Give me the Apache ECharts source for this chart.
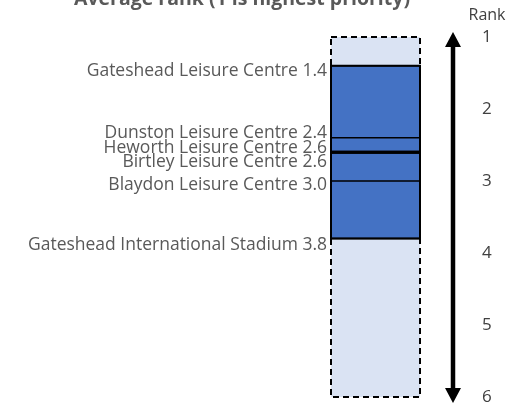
<!DOCTYPE html>
<html><head><meta charset="utf-8">
<script src="https://cdn.jsdelivr.net/npm/echarts@6/dist/echarts.min.js"></script>
<style>html,body{margin:0;padding:0;background:#fff}#c{width:524px;height:406px}</style>
</head><body><div id="c"></div>
<script>
const facilities = ['Gateshead Leisure Centre','Dunston Leisure Centre','Heworth Leisure Centre','Birtley Leisure Centre','Blaydon Leisure Centre','Gateshead International Stadium'];
const ranks = [1.4, 2.4, 2.6, 2.6, 3.0, 3.8];
const rankTicks = [1, 2, 3, 4, 5, 6];
const titleText = 'Average rank (1 is highest priority)';
const axisName = 'Rank';

// styling: vertical label nudges (px)
const labelDy = [5, -5, -4, 10, 4, 6];

const minR = rankTicks[0], maxR = rankTicks[rankTicks.length - 1];
const lo = Math.min(...ranks), hi = Math.max(...ranks);

const chart = echarts.init(document.getElementById('c'));
const grey = '#595959';
chart.setOption({
  animation: false,
  grid: {left: 331, right: 104, top: 37, bottom: 9},
  xAxis: {type: 'value', min: 0, max: 1, show: false},
  yAxis: {
    type: 'value', inverse: true, min: minR, max: maxR, interval: 1,
    position: 'right',
    axisLine: {show: false},
    axisTick: {show: false}, splitLine: {show: false},
    axisLabel: {margin: 62, color: '#404040', fontSize: 17, fontFamily: 'Open Sans'}
  },
  graphic: [
    {type: 'text', style: {text: titleText, x: 242, y: 9, textAlign: 'center', textVerticalAlign: 'bottom', font: 'bold 19.5px "Open Sans"', fill: grey}},
    {type: 'text', style: {text: axisName, x: 487, y: 15, textAlign: 'center', textVerticalAlign: 'middle', font: '16px "Open Sans"', fill: '#404040'}}
  ],
  series: [{
    type: 'custom',
    data: [[0]],
    renderItem: function (params, api) {
      const x0 = api.coord([0, minR])[0], x1 = api.coord([1, minR])[0];
      const yTop = api.coord([0, minR])[1], yBot = api.coord([0, maxR])[1];
      const yLo = api.coord([0, lo])[1], yHi = api.coord([0, hi])[1];
      const children = [];
      children.push({type: 'rect', shape: {x: x0, y: yTop, width: x1 - x0, height: yBot - yTop},
        style: {fill: '#DAE3F3', stroke: '#000', lineWidth: 2, lineDash: [6, 4]}});
      children.push({type: 'rect', shape: {x: x0, y: yLo, width: x1 - x0, height: yHi - yLo},
        style: {fill: '#4472C4', stroke: '#000', lineWidth: 2}});
      ranks.forEach(function (r, i) {
        const y = api.coord([0, r])[1];
        const n = ranks.filter(v => v === r).length;
        children.push({type: 'line', shape: {x1: x0, y1: y, x2: x1, y2: y}, style: {stroke: '#000', lineWidth: 1.5 * n}});
        children.push({type: 'text', style: {text: facilities[i] + ' ' + r.toFixed(1), x: x0 - 4, y: y + labelDy[i],
          textAlign: 'right', textVerticalAlign: 'middle', font: '17.5px "Open Sans"', fill: grey}});
      });
      // double-headed arrow beside the rank scale
      const ax = x1 + 33;
      children.push({type: 'line', shape: {x1: ax, y1: yTop + 8, x2: ax, y2: yBot - 8}, style: {stroke: '#000', lineWidth: 4.5}});
      children.push({type: 'polygon', shape: {points: [[ax, yTop - 5], [ax - 8, yTop + 10], [ax + 8, yTop + 10]]}, style: {fill: '#000'}});
      children.push({type: 'polygon', shape: {points: [[ax, yBot + 6], [ax - 8, yBot - 9], [ax + 8, yBot - 9]]}, style: {fill: '#000'}});
      return {type: 'group', children: children};
    }
  }]
});
</script></body></html>
